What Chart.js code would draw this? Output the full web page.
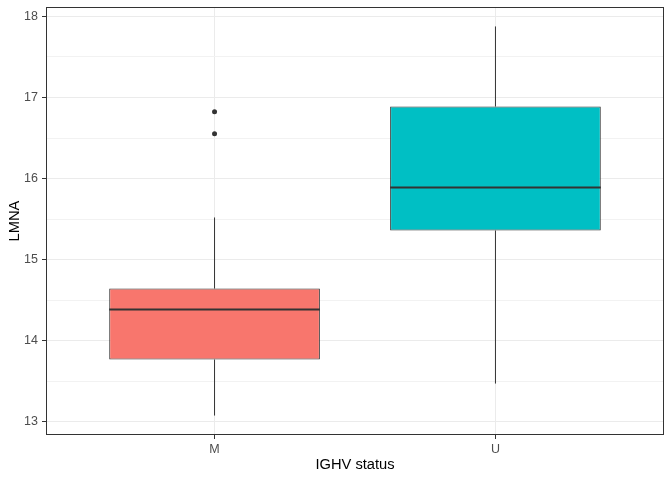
<!DOCTYPE html>
<html>
<head>
<meta charset="utf-8">
<script src="https://cdn.jsdelivr.net/npm/chart.js@4.4.1/dist/chart.umd.min.js"></script>
<style>
html,body{margin:0;padding:0;background:#fff;}
#wrap{width:672px;height:480px;}
</style>
</head>
<body>
<div id="wrap"><canvas id="c" width="672" height="480"></canvas></div>
<script>
// ---- data ----
const categories = ['M', 'U'];
const boxColors = ['#F8766D', '#00BFC4'];
const whiskerLow = [13.074, 13.469];
const q1 = [13.765, 15.358];
const median = [14.383, 15.889];
const q3 = [14.642, 16.889];
const whiskerHigh = [15.519, 17.877];
const outliersM = [16.824, 16.552];
const outliersU = [];
const yTicks = [13, 14, 15, 16, 17, 18];
const yMinorTicks = [13.5, 14.5, 15.5, 16.5, 17.5];

const BOX_WIDTH = 0.75;
const catPos = categories.map((c, i) => i + 1);

const boxData = catPos.map((x, i) => ({x: x, y: [q1[i], q3[i]]}));
const whiskerData = [];
catPos.forEach((x, i) => {
  whiskerData.push({x: x, y: whiskerLow[i]}, {x: x, y: q1[i]}, {x: x, y: null});
  whiskerData.push({x: x, y: q3[i]}, {x: x, y: whiskerHigh[i]}, {x: x, y: null});
});
const medianData = [];
catPos.forEach((x, i) => {
  medianData.push({x: x - BOX_WIDTH / 2, y: median[i]}, {x: x + BOX_WIDTH / 2, y: median[i]}, {x: x, y: null});
});
const outlierData = [];
[outliersM, outliersU].forEach((arr, i) => arr.forEach(v => outlierData.push({x: catPos[i], y: v})));

const allTicks = yTicks.concat(yMinorTicks).sort((a, b) => a - b);

const panelBorder = {
  id: 'panelBorder',
  afterDatasetsDraw(chart) {
    const a = chart.chartArea, ctx = chart.ctx;
    ctx.save();
    ctx.strokeStyle = '#333333';
    ctx.lineWidth = 1;
    ctx.strokeRect(Math.round(a.left) + 0.5, Math.round(a.top) + 0.5,
      Math.round(a.right - a.left) - 1, Math.round(a.bottom - a.top) - 1);
    ctx.restore();
  }
};

const FONT = "'Liberation Sans', Arial, sans-serif";

function zeroPad(s) { s.paddingTop = 0; s.paddingBottom = 0; s.paddingLeft = 0; s.paddingRight = 0; }

new Chart(document.getElementById('c'), {
  type: 'bar',
  data: {
    datasets: [
      {
        type: 'bar', label: 'box', data: boxData,
        backgroundColor: boxColors, borderColor: '#333333', borderWidth: 1,
        borderSkipped: false, categoryPercentage: 1, barPercentage: BOX_WIDTH,
        grouped: false, order: 3
      },
      {
        type: 'line', label: 'whisker', data: whiskerData,
        borderColor: '#333333', borderWidth: 1, pointRadius: 0, spanGaps: false,
        fill: false, tension: 0, order: 2
      },
      {
        type: 'line', label: 'median', data: medianData,
        borderColor: '#333333', borderWidth: 2, pointRadius: 0, spanGaps: false,
        fill: false, tension: 0, order: 1
      },
      {
        type: 'scatter', label: 'outlier', data: outlierData,
        backgroundColor: '#333333', borderWidth: 0, pointRadius: 2.5, order: 0
      }
    ]
  },
  options: {
    responsive: false,
    animation: false,
    events: [],
    layout: {padding: {left: 0, right: 8, top: 7, bottom: 0}},
    plugins: {legend: {display: false}, tooltip: {enabled: false}},
    scales: {
      x: {
        type: 'linear', min: 0.4, max: 2.6, offset: false,
        afterBuildTicks: s => { s.ticks = catPos.map(v => ({value: v})); },
        afterFit: s => { s.height = 45; zeroPad(s); },
        grid: {offset: false, color: '#EBEBEB', lineWidth: 1, tickLength: 4, tickColor: '#333333', tickWidth: 1},
        border: {display: false},
        ticks: {
          autoSkip: false, maxRotation: 0, padding: 3, color: '#4D4D4D',
          font: {family: FONT, size: 12.5},
          callback: v => categories[Math.round(v) - 1] || ''
        },
        title: {display: true, text: 'IGHV status', color: '#000000',
          font: {family: FONT, size: 14.7}, padding: {top: 0, bottom: 6}}
      },
      y: {
        type: 'linear', min: 12.834, max: 18.117,
        afterBuildTicks: s => { s.ticks = allTicks.map(v => ({value: v})); },
        afterFit: s => { s.width = 46; zeroPad(s); },
        grid: {
          color: c => (c.tick && yTicks.includes(c.tick.value)) ? '#EBEBEB' : '#F2F2F2',
          lineWidth: 1, tickLength: 4,
          tickColor: c => (c.tick && yTicks.includes(c.tick.value)) ? '#333333' : 'rgba(0,0,0,0)',
          tickWidth: 1
        },
        border: {display: false},
        ticks: {
          autoSkip: false, padding: 4, color: '#4D4D4D',
          font: {family: FONT, size: 12.5},
          callback: v => yTicks.includes(v) ? String(v) : ''
        },
        title: {display: true, text: 'LMNA', color: '#000000',
          font: {family: FONT, size: 14.7}, padding: {top: 6, bottom: 0}}
      }
    }
  },
  plugins: [panelBorder]
});
</script>
</body>
</html>
